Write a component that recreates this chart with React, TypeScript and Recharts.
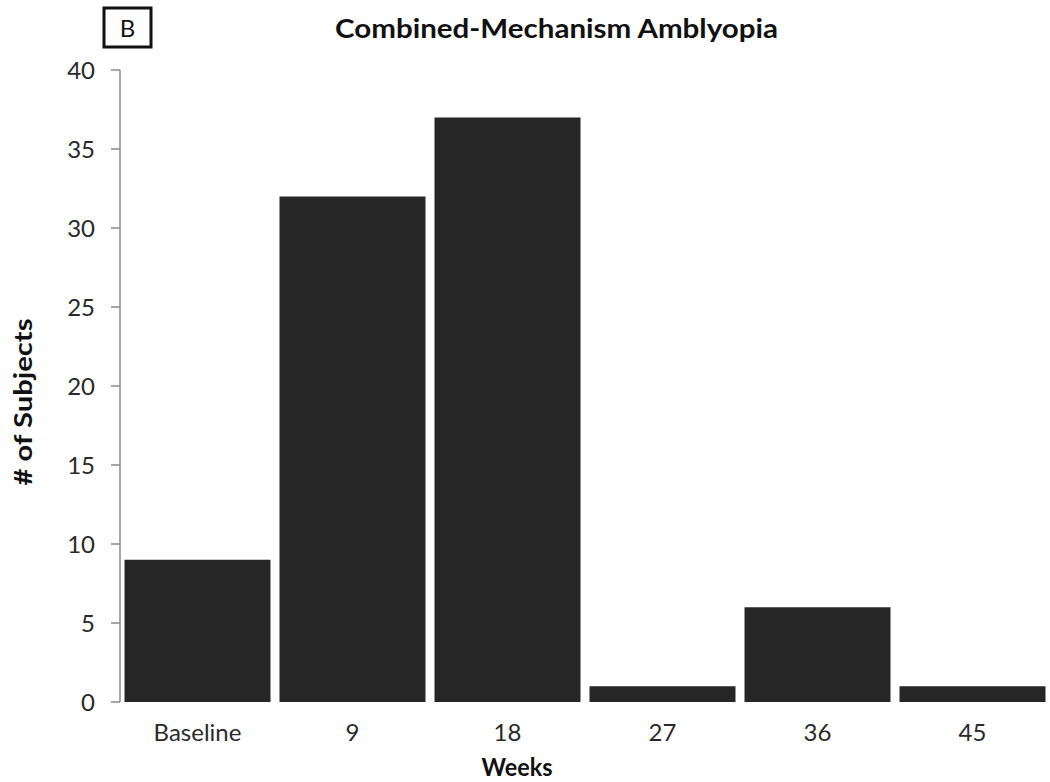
import React from "react";
import { BarChart, Bar, XAxis, YAxis } from "recharts";

if (typeof document !== "undefined") {
  document.body.style.margin = "0";
}

const categories = ["Baseline", "9", "18", "27", "36", "45"];
const subjects = [9, 32, 37, 1, 6, 1];
const yTicks = [0, 5, 10, 15, 20, 25, 30, 35, 40];

const data = categories.map((c, i) => ({ week: c, subjects: subjects[i] }));

const FONT = "Lato, 'Open Sans', sans-serif";
const W = 1050;
const H = 782;

export default function App() {
  return (
    <div style={{ position: "relative", width: W, height: H, background: "#fff", overflow: "hidden" }}>
      <BarChart
        width={W}
        height={H}
        data={data}
        margin={{ top: 70, right: 0, bottom: 0, left: 0 }}
        barCategoryGap="2.9%"
      >
        <XAxis
          dataKey="week"
          axisLine={false}
          tickLine={false}
          tickSize={0}
          tickMargin={22}
          height={80}
          interval={0}
          tick={{ fontSize: 24, fill: "#2a2a2a", fontFamily: FONT }}
        />
        <YAxis
          domain={[0, 40]}
          ticks={yTicks}
          width={120}
          tickSize={9}
          tickMargin={16}
          axisLine={{ stroke: "#8a8a8a", strokeWidth: 1.5 }}
          tickLine={{ stroke: "#8a8a8a", strokeWidth: 1.5 }}
          tick={{ fontSize: 24, fill: "#2a2a2a", fontFamily: FONT }}
        />
        <Bar dataKey="subjects" fill="#262626" isAnimationActive={false} />
      </BarChart>
      <svg
        width={W}
        height={H}
        style={{ position: "absolute", left: 0, top: 0, pointerEvents: "none" }}
      >
        <rect x={104} y={8} width={47} height={39} fill="none" stroke="#111" strokeWidth={3} />
        <text x={127.5} y={37} textAnchor="middle" fontSize={24} fontFamily={FONT} fill="#111">
          B
        </text>
        <text
          x={556.5}
          y={38}
          textAnchor="middle"
          fontSize={26}
          fontWeight="bold"
          fontFamily={FONT}
          fill="#111"
          textLength={443}
          lengthAdjust="spacingAndGlyphs"
        >
          Combined-Mechanism Amblyopia
        </text>
        <text
          x={517}
          y={776}
          textAnchor="middle"
          fontSize={24}
          fontWeight="bold"
          fontFamily={FONT}
          fill="#111"
          textLength={71}
          lengthAdjust="spacingAndGlyphs"
        >
          Weeks
        </text>
        <text
          x={0}
          y={0}
          transform="translate(32,402) rotate(-90)"
          textAnchor="middle"
          fontSize={24}
          fontWeight="bold"
          fontFamily={FONT}
          fill="#111"
          textLength={167}
          lengthAdjust="spacingAndGlyphs"
        >
          # of Subjects
        </text>
      </svg>
    </div>
  );
}
